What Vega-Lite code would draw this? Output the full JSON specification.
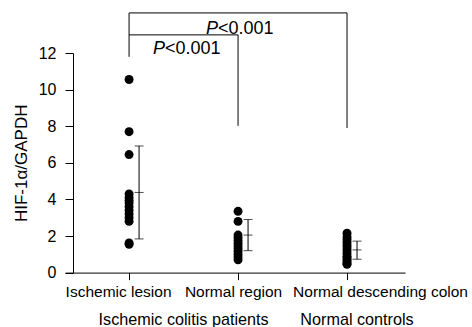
{
  "$schema": "https://vega.github.io/schema/vega-lite/v6.json",
  "width": 340,
  "height": 219.6,
  "autosize": {"type": "none"},
  "padding": {"left": 65, "top": 53, "right": 67, "bottom": 54.4},
  "background": "white",
  "config": {
    "view": {"stroke": null},
    "font": "Liberation Sans",
    "axis": {
      "grid": false,
      "domainColor": "black",
      "tickColor": "black",
      "labelColor": "black",
      "titleColor": "black",
      "labelFont": "Liberation Sans",
      "titleFont": "Liberation Sans"
    }
  },
  "datasets": {
    "points": [
      {"group": "Ischemic lesion", "value": 10.55},
      {"group": "Ischemic lesion", "value": 7.7},
      {"group": "Ischemic lesion", "value": 6.45},
      {"group": "Ischemic lesion", "value": 4.3},
      {"group": "Ischemic lesion", "value": 4.1},
      {"group": "Ischemic lesion", "value": 3.95},
      {"group": "Ischemic lesion", "value": 3.8},
      {"group": "Ischemic lesion", "value": 3.6},
      {"group": "Ischemic lesion", "value": 3.4},
      {"group": "Ischemic lesion", "value": 3.2},
      {"group": "Ischemic lesion", "value": 3.0},
      {"group": "Ischemic lesion", "value": 2.8},
      {"group": "Ischemic lesion", "value": 1.62},
      {"group": "Ischemic lesion", "value": 1.55},
      {"group": "Normal region", "value": 3.35},
      {"group": "Normal region", "value": 2.8},
      {"group": "Normal region", "value": 2.05},
      {"group": "Normal region", "value": 1.9},
      {"group": "Normal region", "value": 1.75},
      {"group": "Normal region", "value": 1.6},
      {"group": "Normal region", "value": 1.45},
      {"group": "Normal region", "value": 1.3},
      {"group": "Normal region", "value": 1.15},
      {"group": "Normal region", "value": 1.0},
      {"group": "Normal region", "value": 0.85},
      {"group": "Normal region", "value": 0.7},
      {"group": "Normal descending colon", "value": 2.15},
      {"group": "Normal descending colon", "value": 1.95},
      {"group": "Normal descending colon", "value": 1.8},
      {"group": "Normal descending colon", "value": 1.65},
      {"group": "Normal descending colon", "value": 1.5},
      {"group": "Normal descending colon", "value": 1.35},
      {"group": "Normal descending colon", "value": 1.2},
      {"group": "Normal descending colon", "value": 1.05},
      {"group": "Normal descending colon", "value": 0.9},
      {"group": "Normal descending colon", "value": 0.8},
      {"group": "Normal descending colon", "value": 0.7},
      {"group": "Normal descending colon", "value": 0.6},
      {"group": "Normal descending colon", "value": 0.5},
      {"group": "Normal descending colon", "value": 0.45}
    ],
    "summary": [
      {"group": "Ischemic lesion", "mean": 4.38, "lo": 1.84, "hi": 6.92},
      {"group": "Normal region", "mean": 2.05, "lo": 1.2, "hi": 2.9},
      {"group": "Normal descending colon", "mean": 1.24, "lo": 0.73, "hi": 1.72}
    ],
    "hbrackets": [
      {"from": "Ischemic lesion", "to": "Normal descending colon", "level": 14.19},
      {"from": "Ischemic lesion", "to": "Normal region", "level": 12.99}
    ],
    "vbrackets": [
      {"group": "Ischemic lesion", "low": 11.79, "high": 14.19},
      {"group": "Normal region", "low": 8.02, "high": 12.99},
      {"group": "Normal descending colon", "low": 7.9, "high": 14.19}
    ],
    "ptop": [{"group": "Normal region", "level": 13.3, "p": "P", "rest": "<0.001"}],
    "psecond": [{"group": "Ischemic lesion", "level": 12.2, "p": "P", "rest": "<0.001"}],
    "grp1": [{"group": "Ischemic lesion", "label": "Ischemic colitis patients", "level": -2.6}],
    "grp2": [{"group": "Normal descending colon", "label": "Normal controls", "level": -2.6}]
  },
  "encoding": {
    "x": {
      "field": "group",
      "type": "nominal",
      "sort": null,
      "scale": {"type": "point", "domain": ["Ischemic lesion", "Normal region", "Normal descending colon"], "padding": 0.56, "align": 0.525},
      "axis": {
        "title": null,
        "labelAngle": 0,
        "labelFontSize": 15.5,
        "tickSize": 7,
        "labelPadding": 5,
        "domainWidth": 1,
        "labelOverlap": false,
        "labelOffset": {
          "condition": [
            {"test": "datum.value === 'Normal descending colon'", "value": 33},
            {"test": "datum.value === 'Ischemic lesion'", "value": -11}
          ],
          "value": -5
        }
      }
    },
    "y": {
      "field": "level",
      "type": "quantitative",
      "scale": {"domain": [0, 12], "nice": false, "zero": true},
      "axis": {
        "title": "HIF-1α/GAPDH",
        "values": [0, 2, 4, 6, 8, 10, 12],
        "labelOverlap": false,
        "labelFontSize": 16,
        "titleFontSize": 17,
        "titleFontWeight": "normal",
        "tickSize": 8,
        "labelPadding": 9,
        "titlePadding": 8,
        "offset": -8
      }
    }
  },
  "layer": [
    {
      "data": {"name": "points"},
      "mark": {"type": "circle", "size": 80, "color": "black", "opacity": 1},
      "encoding": {"y": {"field": "value", "type": "quantitative"}}
    },
    {
      "data": {"name": "summary"},
      "mark": {"type": "rule", "color": "black", "xOffset": 10},
      "encoding": {"y": {"field": "lo", "type": "quantitative"}, "y2": {"field": "hi"}}
    },
    {
      "data": {"name": "summary"},
      "mark": {"type": "tick", "color": "black", "xOffset": 10, "size": 9, "thickness": 1, "orient": "horizontal"},
      "encoding": {"y": {"field": "lo", "type": "quantitative"}}
    },
    {
      "data": {"name": "summary"},
      "mark": {"type": "tick", "color": "black", "xOffset": 10, "size": 9, "thickness": 1, "orient": "horizontal"},
      "encoding": {"y": {"field": "mean", "type": "quantitative"}}
    },
    {
      "data": {"name": "summary"},
      "mark": {"type": "tick", "color": "black", "xOffset": 10, "size": 9, "thickness": 1, "orient": "horizontal"},
      "encoding": {"y": {"field": "hi", "type": "quantitative"}}
    },
    {
      "data": {"name": "hbrackets"},
      "mark": {"type": "rule", "color": "black"},
      "encoding": {"x": {"field": "from", "type": "nominal"}, "x2": {"field": "to"}}
    },
    {
      "data": {"name": "vbrackets"},
      "mark": {"type": "rule", "color": "black"},
      "encoding": {"y": {"field": "low", "type": "quantitative"}, "y2": {"field": "high"}}
    },
    {
      "data": {"name": "ptop"},
      "mark": {"type": "text", "font": "Liberation Sans", "fontSize": 18, "fontStyle": "italic", "align": "right", "baseline": "middle", "xOffset": -20, "color": "black"},
      "encoding": {"text": {"field": "p"}}
    },
    {
      "data": {"name": "ptop"},
      "mark": {"type": "text", "font": "Liberation Sans", "fontSize": 18, "align": "left", "baseline": "middle", "xOffset": -20, "color": "black"},
      "encoding": {"text": {"field": "rest"}}
    },
    {
      "data": {"name": "psecond"},
      "mark": {"type": "text", "font": "Liberation Sans", "fontSize": 18, "fontStyle": "italic", "align": "right", "baseline": "middle", "xOffset": 36, "color": "black"},
      "encoding": {"text": {"field": "p"}}
    },
    {
      "data": {"name": "psecond"},
      "mark": {"type": "text", "font": "Liberation Sans", "fontSize": 18, "align": "left", "baseline": "middle", "xOffset": 36, "color": "black"},
      "encoding": {"text": {"field": "rest"}}
    },
    {
      "data": {"name": "grp1"},
      "mark": {"type": "text", "font": "Liberation Sans", "fontSize": 16.2, "align": "center", "baseline": "middle", "xOffset": 54.5, "color": "black"},
      "encoding": {"text": {"field": "label"}}
    },
    {
      "data": {"name": "grp2"},
      "mark": {"type": "text", "font": "Liberation Sans", "fontSize": 16.2, "align": "center", "baseline": "middle", "xOffset": 10, "color": "black"},
      "encoding": {"text": {"field": "label"}}
    }
  ]
}
